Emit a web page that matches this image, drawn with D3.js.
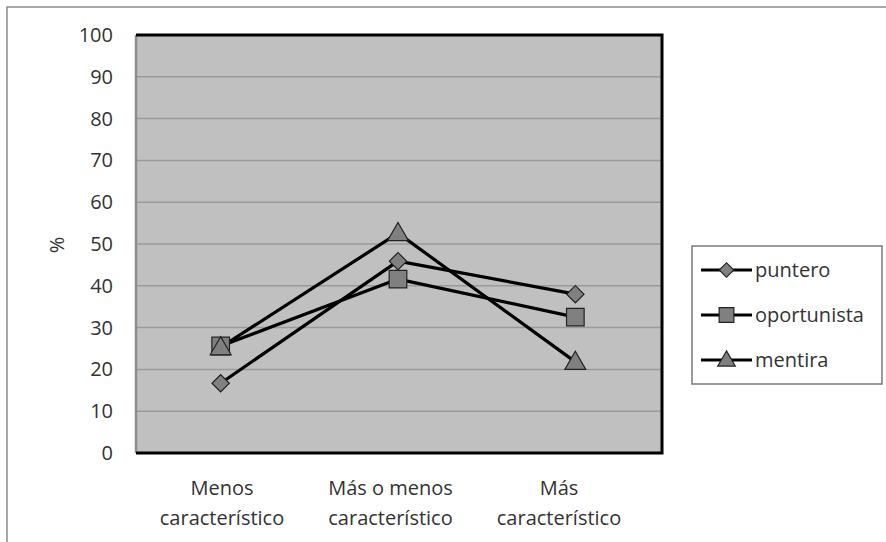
<!DOCTYPE html>
<html>
<head>
<meta charset="utf-8">
<script src="https://cdn.jsdelivr.net/npm/d3@7"></script>
<style>
  html, body { margin: 0; padding: 0; background: #fff; }
  svg { display: block; }
  text { font-family: "Open Sans", Lato, sans-serif; fill: #333; }
</style>
</head>
<body>
<svg id="chart" width="886" height="542"></svg>
<script>
// Categories and series (percent)
const categories = ["Menos|característico", "Más o menos|característico", "Más|característico"];
const seriesNames = ["puntero", "oportunista", "mentira"];
const puntero = [16.7, 45.9, 38.0];
const oportunista = [25.6, 41.6, 32.5];
const mentira = [25.3, 52.6, 21.8];
const yTicks = [0, 10, 20, 30, 40, 50, 60, 70, 80, 90, 100];
const seriesValues = [puntero, oportunista, mentira];

const svg = d3.select("#chart");
const W = 886, H = 542;
const FONT = "'Open Sans', Lato, sans-serif";

// Marker shapes: diamond is a square turned 45 degrees
const markerDefs = [
  { type: d3.symbolSquare, size: 150, rotate: 45, dy: 0 },
  { type: d3.symbolSquare, size: 310, rotate: 0, dy: 0 },
  { type: d3.symbolTriangle, size: 190, rotate: 0, dy: 1.5 }
];

// Outer chart frame (only top/left edges fall inside the canvas)
svg.append("rect")
  .attr("x", 7).attr("y", 7).attr("width", W + 20).attr("height", H + 20)
  .attr("fill", "#fff").attr("stroke", "#8a8a8a").attr("stroke-width", 1.5);

const plot = { left: 136, top: 35, right: 662, bottom: 453 };

const x = d3.scaleBand().domain(d3.range(categories.length))
  .range([plot.left - 4, plot.right + 2]);
const y = d3.scaleLinear().domain([0, 100]).range([plot.bottom, plot.top]);
const cx = i => x(i) + x.bandwidth() / 2;
// Category labels sit on a slightly narrower spread than the markers
const xLabel = d3.scalePoint().domain(d3.range(categories.length)).range([222, 559]);

// Plot background
svg.append("rect")
  .attr("x", plot.left).attr("y", plot.top)
  .attr("width", plot.right - plot.left).attr("height", plot.bottom - plot.top)
  .attr("fill", "#c0c0c0");

// Gridlines
svg.append("g")
  .selectAll("line").data(yTicks.filter(t => t > 0 && t < 100)).join("line")
  .attr("x1", plot.left).attr("x2", plot.right)
  .attr("y1", d => y(d)).attr("y2", d => y(d))
  .attr("stroke", "#9a9a9a").attr("stroke-width", 1.5);

// Plot border: grey on the left, heavy black on top/right/bottom
svg.append("line").attr("x1", plot.left).attr("x2", plot.left)
  .attr("y1", plot.top).attr("y2", plot.bottom)
  .attr("stroke", "#8c8c8c").attr("stroke-width", 2.5);
svg.append("path")
  .attr("d", `M${plot.left},${plot.top}H${plot.right}V${plot.bottom}H${plot.left}`)
  .attr("fill", "none").attr("stroke", "#000").attr("stroke-width", 3);

// Y axis labels
const yAxis = d3.axisLeft(y).tickValues(yTicks).tickSize(0).tickPadding(23);
const gy = svg.append("g").attr("transform", `translate(${plot.left},0)`).call(yAxis);
gy.select(".domain").remove();
gy.selectAll("text").attr("font-size", 20).attr("fill", "#333")
  .style("font-family", FONT);

svg.append("text")
  .attr("transform", "translate(64,245) rotate(-90)")
  .attr("text-anchor", "middle").attr("font-size", 20).text("%");

// X category labels
const gx = svg.append("g");
categories.forEach((c, i) => {
  const t = gx.append("text")
    .attr("x", xLabel(i))
    .attr("y", 495).attr("text-anchor", "middle").attr("font-size", 20);
  c.split("|").forEach((line, j) => {
    t.append("tspan").attr("x", xLabel(i))
      .attr("dy", j === 0 ? 0 : 30).text(line);
  });
});

// Lines and markers
const line = d3.line().x((d, i) => cx(i)).y(d => y(d));

seriesValues.forEach(vals => {
  svg.append("path").datum(vals)
    .attr("d", line).attr("fill", "none")
    .attr("stroke", "#000").attr("stroke-width", 3.2)
    .attr("stroke-linejoin", "round");
});
seriesValues.forEach((vals, s) => {
  const m = markerDefs[s];
  svg.append("g").selectAll("path").data(vals).join("path")
    .attr("transform", (d, i) => `translate(${cx(i)},${y(d) + m.dy}) rotate(${m.rotate})`)
    .attr("d", d3.symbol().type(m.type).size(m.size))
    .attr("fill", "#808080").attr("stroke", "#222").attr("stroke-width", 1.2);
});

// Legend
const lg = svg.append("g");
lg.append("rect").attr("x", 692).attr("y", 246).attr("width", 190).attr("height", 138)
  .attr("fill", "#fff").attr("stroke", "#7a7a7a").attr("stroke-width", 1.5);
seriesNames.forEach((name, s) => {
  const ly = 270 + s * 45;
  const m = markerDefs[s];
  lg.append("line").attr("x1", 701).attr("x2", 752).attr("y1", ly).attr("y2", ly)
    .attr("stroke", "#000").attr("stroke-width", 3.2);
  lg.append("path").attr("transform", `translate(726.5,${ly + (s === 2 ? 1 : 0)}) rotate(${m.rotate})`)
    .attr("d", d3.symbol().type(m.type).size(m.size * 0.7))
    .attr("fill", "#808080").attr("stroke", "#222").attr("stroke-width", 1.2);
  lg.append("text").attr("x", 755).attr("y", ly + 7).attr("font-size", 20).text(name);
});
</script>
</body>
</html>
